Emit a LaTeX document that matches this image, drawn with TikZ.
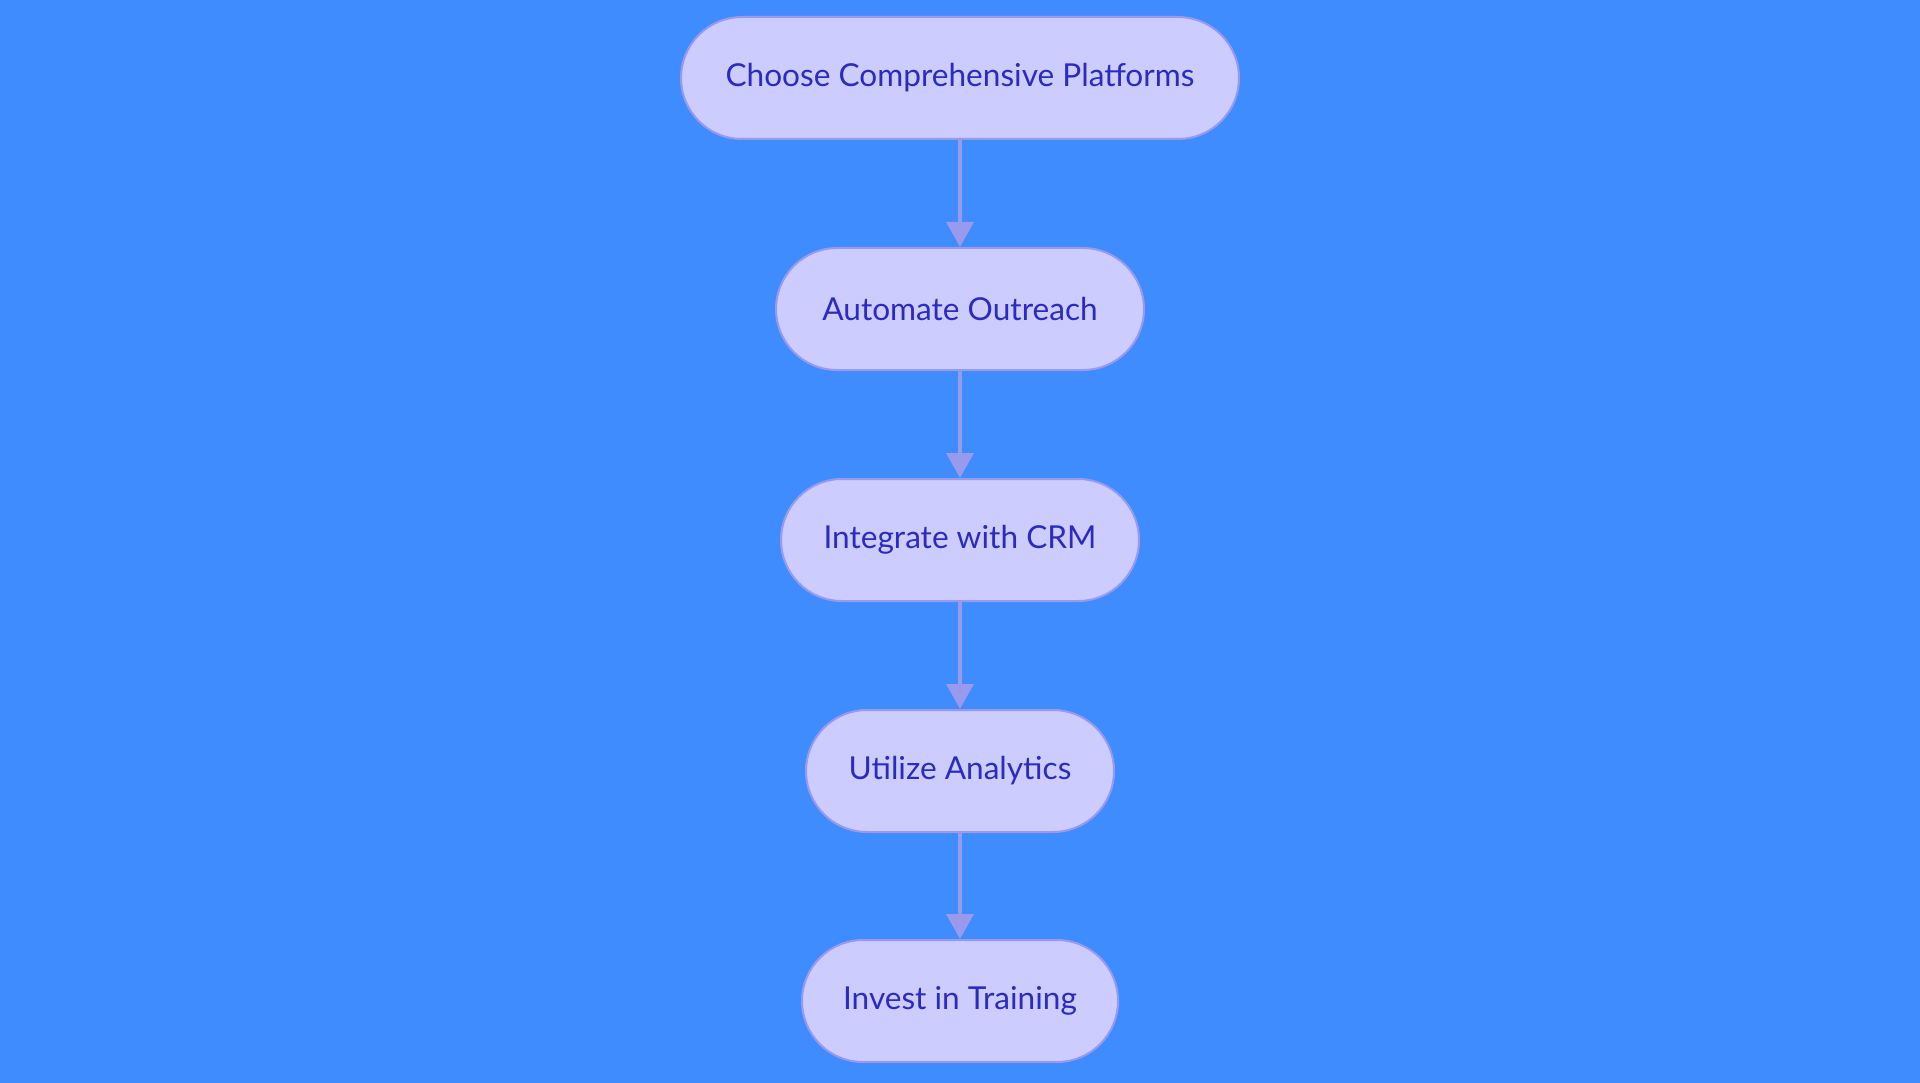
\documentclass[tikz,border=0pt]{standalone}
\usepackage{fontspec}
\setmainfont{Lato}
\usetikzlibrary{shapes.misc,arrows.meta}
\definecolor{bgblue}{HTML}{3F8CFF}
\definecolor{pillfill}{HTML}{CCCCFF}
\definecolor{pillline}{HTML}{9999EE}
\definecolor{pilltext}{HTML}{2B2BC0}
\tikzset{
  pill/.style={rounded rectangle, draw=pillline, fill=pillfill, line width=2pt,
    minimum height=122pt, text=pilltext, inner xsep=0pt,
    font=\fontsize{31.6}{36}\selectfont},
  flow/.style={draw=pillline, line width=3.5pt,
    -{Triangle[width=27pt,length=25pt]}}
}
\begin{document}
\begin{tikzpicture}[x=1pt,y=-1pt]
  \fill[bgblue] (0,0) rectangle (1920,1083);
  \useasboundingbox (0,0) rectangle (1920,1083);
  \node[pill, minimum width=558pt] (n1) at (960,78) {Choose Comprehensive Platforms};
  \node[pill, minimum width=368pt] (n2) at (960,309) {Automate Outreach};
  \node[pill, minimum width=358pt] (n3) at (960,540) {Integrate with CRM};
  \node[pill, minimum width=308pt] (n4) at (960,771) {Utilize Analytics};
  \node[pill, minimum width=316pt] (n5) at (960,1001) {Invest in Training};
  \draw[flow] (n1) -- (n2);
  \draw[flow] (n2) -- (n3);
  \draw[flow] (n3) -- (n4);
  \draw[flow] (n4) -- (n5);
\end{tikzpicture}
\end{document}
